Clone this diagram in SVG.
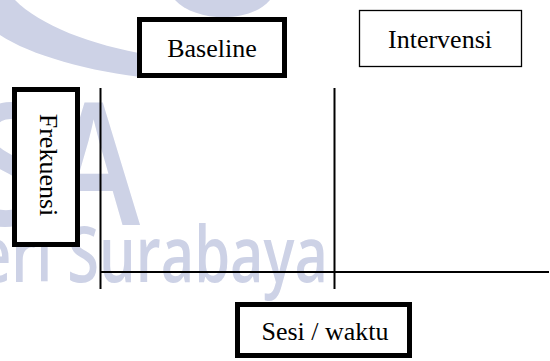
<svg xmlns="http://www.w3.org/2000/svg" width="550" height="361" viewBox="0 0 550 361">
<style>
.wm{fill:#cdd2e6}
.wmt{fill:#cdd2e6;font-family:"Open Sans","DejaVu Sans",sans-serif;font-weight:600}
.thick{fill:#fff;stroke:#000;stroke-width:5}
.thin{fill:#fff;stroke:#000;stroke-width:1.3}
.lbl{font-family:"Liberation Serif","Times New Roman",serif;font-size:26px;fill:#000;text-anchor:middle}
.ax{stroke:#000;stroke-width:2;fill:none}
</style>
<rect width="550" height="361" fill="#fff"/>
<g id="watermark">
<path class="wm" d="M15,0 C40,25 90,45 150,55 L150,78 C90,72 30,55 0,35 L0,0 Z"/>
<path class="wm" d="M175,0 C195,22 250,24 270,0 Z"/>
<text class="wmt" x="-30" y="225" font-size="170" textLength="170" lengthAdjust="spacingAndGlyphs">SA</text>
<text class="wmt" x="-22" y="282" font-size="78" textLength="350" lengthAdjust="spacingAndGlyphs">eri Surabaya</text>
</g>
<g id="connectors">
<line class="ax" x1="100.5" y1="88" x2="100.5" y2="289"/>
<line class="ax" x1="334.5" y1="88" x2="334.5" y2="289"/>
<line class="ax" x1="100" y1="272" x2="549" y2="272"/>
</g>
<g id="baseline">
<rect class="thick" x="139.5" y="19.5" width="145" height="56"/>
<text class="lbl" x="212" y="57">Baseline</text>
</g>
<g id="intervensi">
<rect class="thin" x="359.5" y="10.5" width="162" height="56"/>
<text class="lbl" x="440" y="48">Intervensi</text>
</g>
<g id="frekuensi">
<rect class="thick" x="14.5" y="89.5" width="63" height="155"/>
<text class="lbl" transform="translate(40,165) rotate(90)">Frekuensi</text>
</g>
<g id="sesi">
<rect class="thick" x="237.5" y="304.5" width="172" height="51"/>
<text class="lbl" x="325" y="340">Sesi / waktu</text>
</g>
</svg>
